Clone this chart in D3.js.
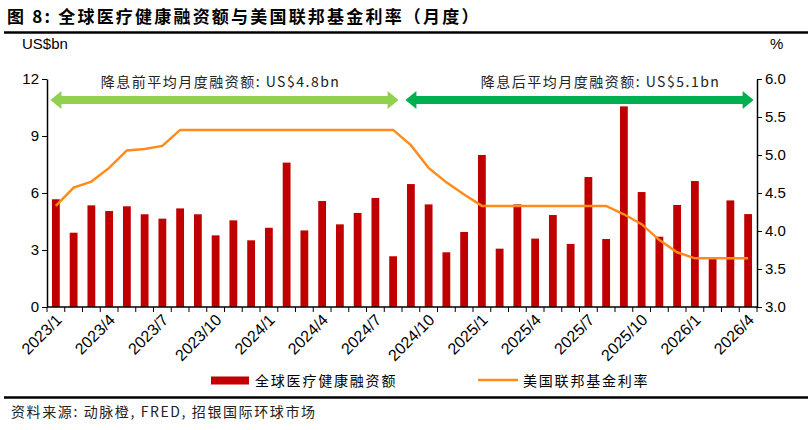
<!DOCTYPE html>
<html>
<head>
<meta charset="utf-8">
<script src="https://cdn.jsdelivr.net/npm/d3@7"></script>
<style>
  body { margin: 0; background: #fff; }
  text { font-family: "Liberation Sans", Arial, "Noto Sans CJK SC", sans-serif; }
  .cn { font-family: "Noto Sans CJK SC", sans-serif; }
</style>
</head>
<body>
<div id="chart" style="width:810px;height:430px;"></div>
<script>
// monthly data, 2023/1 - 2026/4
const months = [];
for (let y = 2023; y <= 2026; y++) {
    for (let m = 1; m <= 12; m++) {
        if (y === 2026 && m > 4) break;
        months.push(y + "/" + m);
    }
}

// global healthcare funding, US$bn
const funding = [5.67, 3.91, 5.35, 5.05, 5.30, 4.88, 4.65, 5.19, 4.88, 3.77, 4.56, 3.51,
    4.17, 7.60, 4.03, 5.58, 4.35, 4.95, 5.74, 2.67, 6.47, 5.40, 2.88, 3.95,
    8.00, 3.07, 5.40, 3.60, 4.84, 3.32, 6.84, 3.58, 10.56, 6.05, 3.70, 5.37,
    6.63, 2.55, 5.61, 4.89];

// US fed funds rate, %
const fedRate = [4.33, 4.57, 4.65, 4.83, 5.06, 5.08, 5.12, 5.33, 5.33, 5.33, 5.33, 5.33,
    5.33, 5.33, 5.33, 5.33, 5.33, 5.33, 5.33, 5.33, 5.13, 4.83, 4.64, 4.48,
    4.33, 4.33, 4.33, 4.33, 4.33, 4.33, 4.33, 4.33, 4.22, 4.09, 3.88, 3.72,
    3.64, 3.64, 3.64, 3.64];

const leftTicks = [0, 3, 6, 9, 12];
const rightTicks = [3.0, 3.5, 4.0, 4.5, 5.0, 5.5, 6.0];
const labelMonths = ["2023/1", "2023/4", "2023/7", "2023/10", "2024/1", "2024/4", "2024/7",
    "2024/10", "2025/1", "2025/4", "2025/7", "2025/10", "2026/1", "2026/4"];

const periods = [
    {from: "2023/1", to: "2024/8", text: "降息前平均月度融资额: US$4.8bn", color: "#92D050"},
    {from: "2024/9", to: "2026/4", text: "降息后平均月度融资额: US$5.1bn", color: "#00B050"}
];

const width = 810, height = 430;
const margin = {top: 79, right: 53, bottom: 123, left: 47};
const plotWidth = width - margin.left - margin.right;
const plotHeight = height - margin.top - margin.bottom;

const svg = d3.select("#chart").append("svg")
    .attr("width", width)
    .attr("height", height);

// title + rules
svg.append("text")
    .attr("class", "cn")
    .attr("x", 7).attr("y", 23)
    .attr("font-size", 17).attr("font-weight", "bold")
    .attr("letter-spacing", 2.2)
    .text("图 8: 全球医疗健康融资额与美国联邦基金利率（月度）");
svg.append("line").attr("x1", 4).attr("x2", 808).attr("y1", 32.5).attr("y2", 32.5)
    .attr("stroke", "#000").attr("stroke-width", 2.5);
svg.append("line").attr("x1", 4).attr("x2", 808).attr("y1", 397.5).attr("y2", 397.5)
    .attr("stroke", "#000").attr("stroke-width", 2.5);
svg.append("text")
    .attr("class", "cn")
    .attr("x", 11).attr("y", 417)
    .attr("font-size", 14).attr("fill", "#222")
    .attr("letter-spacing", 1.6)
    .text("资料来源: 动脉橙, FRED, 招银国际环球市场");

const g = svg.append("g").attr("transform", `translate(${margin.left},${margin.top})`);

const x = d3.scaleBand().domain(months).range([0, plotWidth]).paddingInner(0.56).paddingOuter(0.28);
const yL = d3.scaleLinear().domain([0, 12]).range([plotHeight, 0]);
const yR = d3.scaleLinear().domain([3, 6]).range([plotHeight, 0]);
const step = x.step();

// bars
g.append("g").selectAll("rect")
    .data(funding)
    .enter().append("rect")
    .attr("x", (d, i) => x(months[i]))
    .attr("y", d => yL(d))
    .attr("width", x.bandwidth())
    .attr("height", d => plotHeight - yL(d))
    .attr("fill", "#C00000");

// rate line
const line = d3.line()
    .x((d, i) => x(months[i]) + x.bandwidth() / 2)
    .y(d => yR(d));
g.append("path")
    .datum(fedRate)
    .attr("d", line)
    .attr("fill", "none")
    .attr("stroke", "#FF8C1A")
    .attr("stroke-width", 2.5);

// axes
const axisL = g.append("g")
    .call(d3.axisLeft(yL).tickValues(leftTicks).tickSize(5).tickSizeOuter(0));
const axisR = g.append("g").attr("transform", `translate(${plotWidth},0)`)
    .call(d3.axisRight(yR).tickValues(rightTicks).tickFormat(d3.format(".1f")).tickSize(5).tickSizeOuter(0));
[axisL, axisR].forEach(a => {
    a.select(".domain").attr("stroke", "#000").attr("stroke-width", 1.5);
    a.selectAll("text").attr("font-size", 15).attr("fill", "#000");
});

// x axis with ticks at band boundaries
const xAxis = g.append("g").attr("transform", `translate(0,${plotHeight})`);
xAxis.append("line").attr("x1", 0).attr("x2", plotWidth)
    .attr("stroke", "#000").attr("stroke-width", 1.5);
xAxis.selectAll(".tk")
    .data(d3.range(months.length + 1))
    .enter().append("line")
    .attr("x1", i => i * step).attr("x2", i => i * step)
    .attr("y1", 0).attr("y2", 5)
    .attr("stroke", "#000");
xAxis.selectAll(".lbl")
    .data(labelMonths)
    .enter().append("text")
    .attr("transform", d => `translate(${x(d) + x.bandwidth() / 2 + 7},${14}) rotate(-45)`)
    .attr("text-anchor", "end")
    .attr("font-size", 16)
    .attr("fill", "#000")
    .text(d => d);

// axis unit labels
svg.append("text").attr("x", 22).attr("y", 49).attr("font-size", 15).text("US$bn");
svg.append("text").attr("x", 770).attr("y", 49).attr("font-size", 15).text("%");

// period arrows
const arrowY = 21;
const textShift = [-4, 21];
periods.forEach((p, k) => {
    const x0 = x(p.from) - x.bandwidth() * 0.2;
    const x1 = x(p.to) + x.bandwidth() * 1.2;
    const head = 11, hh = 9, sh = 4;
    const pts = [
        [x0, arrowY], [x0 + head, arrowY - hh], [x0 + head, arrowY - sh],
        [x1 - head, arrowY - sh], [x1 - head, arrowY - hh], [x1, arrowY],
        [x1 - head, arrowY + hh], [x1 - head, arrowY + sh], [x0 + head, arrowY + sh],
        [x0 + head, arrowY + hh]
    ];
    g.append("polygon")
        .attr("points", pts.map(d => d.join(",")).join(" "))
        .attr("fill", p.color);
    g.append("text")
        .attr("class", "cn")
        .attr("x", (x0 + x1) / 2 + textShift[k]).attr("y", 8)
        .attr("text-anchor", "middle")
        .attr("font-size", 14)
        .attr("letter-spacing", 1.5)
        .attr("fill", "#222")
        .text(p.text);
});

// legend
const lg = svg.append("g").attr("transform", "translate(0,380)");
lg.append("rect").attr("x", 211).attr("y", -3.5).attr("width", 38).attr("height", 8).attr("fill", "#C00000");
lg.append("text").attr("class", "cn").attr("x", 255).attr("y", 5.5).attr("font-size", 14)
    .attr("letter-spacing", 1.8).text("全球医疗健康融资额");
lg.append("line").attr("x1", 478).attr("x2", 518).attr("y1", 0).attr("y2", 0)
    .attr("stroke", "#FF8C1A").attr("stroke-width", 2.5);
lg.append("text").attr("class", "cn").attr("x", 523).attr("y", 5.5).attr("font-size", 14)
    .attr("letter-spacing", 1.8).text("美国联邦基金利率");
</script>
</body>
</html>
